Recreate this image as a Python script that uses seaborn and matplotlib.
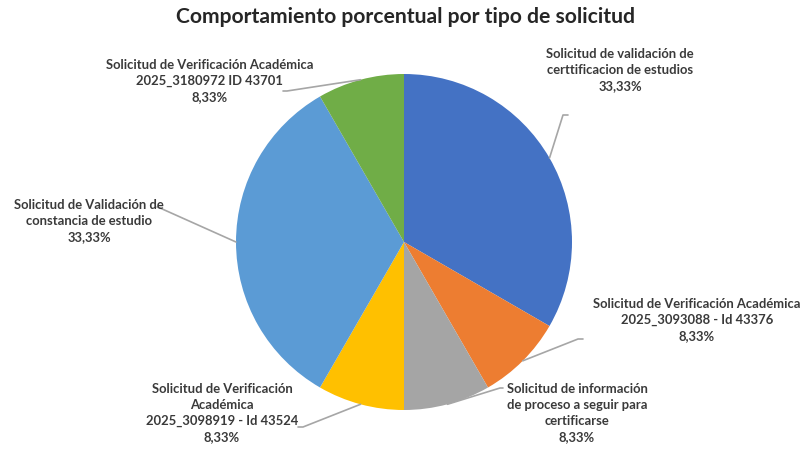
import matplotlib
matplotlib.use("Agg")
import matplotlib.pyplot as plt
import seaborn as sns
import numpy as np

# Data

categories = [
    "Solicitud de validación de\ncerttificacion de estudios",
    "Solicitud de Verificación Académica\n2025_3093088 - Id 43376",
    "Solicitud de información\nde proceso a seguir para\ncertificarse",
    "Solicitud de Verificación\nAcadémica\n2025_3098919 - Id 43524",
    "Solicitud de Validación de\nconstancia de estudio",
    "Solicitud de Verificación Académica\n2025_3180972 ID 43701",
]
percentages = [33.33, 8.33, 8.33, 8.33, 33.33, 8.33]
colors = ["#4472C4", "#ED7D31", "#A5A5A5", "#FFC000", "#5B9BD5", "#70AD47"]

# Layout (pixel positions in the 809x451 picture)

W, H = 809, 451
CX, CY, R = 404, 242, 168
label_pos = [(620, 70), (697, 320), (577, 413), (222, 413), (89, 221), (210, 81)]
elbows = [
    [(563, 115), (568, 115)],
    [(578, 339), (583, 339)],
    [(500, 388), (503, 388)],
    [(303, 427), (298, 427)],
    [(160, 208), (157, 207)],
    [(287, 91), (283, 91)],
]


def to_data(px, py):
    return (px - CX) / R, (CY - py) / R


sns.set_theme(style="white")
plt.rcParams["font.family"] = ["Lato", "DejaVu Sans"]

fig = plt.figure(figsize=(W / 100, H / 100), dpi=100)
ax = fig.add_axes([0, 0, 1, 1])

wedges, _ = ax.pie(
    percentages,
    colors=colors,
    startangle=90,
    counterclock=False,
    radius=1,
    wedgeprops=dict(linewidth=0),
)

ax.set_xlim(-CX / R, (W - CX) / R)
ax.set_ylim(-(H - CY) / R, CY / R)
ax.set_aspect("equal")
ax.axis("off")

# Labels with leader lines

for w, cat, pct, pos, elb in zip(wedges, categories, percentages, label_pos, elbows):
    mid = np.deg2rad((w.theta1 + w.theta2) / 2)
    pts = [(np.cos(mid), np.sin(mid))] + [to_data(*p) for p in elb]
    xs, ys = zip(*pts)
    ax.plot(xs, ys, color="#A6A6A6", linewidth=1.2, zorder=3)
    tx, ty = to_data(*pos)
    text = cat + "\n" + f"{pct:.2f}".replace(".", ",") + "%"
    ax.text(tx, ty, text, ha="center", va="center", fontsize=9.4,
            fontweight="bold", color="#3A3A3A", linespacing=1.42, zorder=4)

fig.text(406 / W, 1 - 17 / H, "Comportamiento porcentual por tipo de solicitud",
         ha="center", va="center", fontsize=15.2, fontweight="bold", color="#262626")

fig.savefig("out.png", dpi=100)
